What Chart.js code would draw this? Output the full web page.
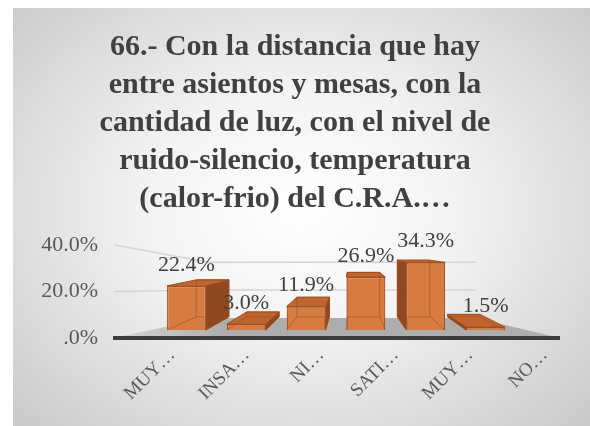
<!DOCTYPE html>
<html>
<head>
<meta charset="utf-8">
<script src="https://cdn.jsdelivr.net/npm/chart.js@4.4.1/dist/chart.umd.min.js"></script>
<style>
  html, body { margin: 0; padding: 0; background: #ffffff; }
  #wrap { position: relative; width: 590px; height: 426px; overflow: hidden; }
  #panel {
    position: absolute; left: 13px; top: 8px; right: 0; bottom: 0;
    background: radial-gradient(ellipse 70% 75% at 50% 48%, #ffffff 0%, #f3f3f3 38%, #c9c9c9 100%);
  }
  canvas { position: absolute; left: 0; top: 0; }
</style>
</head>
<body>
<div id="wrap">
  <div id="panel"></div>
  <canvas id="chart" width="590" height="426"></canvas>
</div>
<script>
// Survey question 66 — share of answers per option
const titleLines = [
  '66.- Con la distancia que hay',
  'entre asientos y mesas, con la',
  'cantidad de luz, con el nivel de',
  'ruido-silencio, temperatura',
  '(calor-frio) del C.R.A.…'
];
const categories = ['MUY…', 'INSA…', 'NI…', 'SATI…', 'MUY…', 'NO…'];
const percentages = [22.4, 3.0, 11.9, 26.9, 34.3, 1.5];
const yTickValues = [0, 20, 40];

// 3-D look: the bars stand on a plane set back from the axis plane,
// and every box is extruded toward a vanishing point.
const barPlane = { sx: 0.803, tx: 65.8, sy: 0.847, ty: 43.7 };
const barEye = { x: 350, y: 248, k: 0.84 };
const wallEye = { x: 350, y: 288, k: 0.6 };

const COLORS = {
  front: '#d67b42',
  edge: '#a24f1d',
  side: '#8f4822',
  top: '#bf6630',
  floor: '#adadad',
  floorEdge: '#3b3b3b',
  grid: '#d4d4d4',
  text: '#404040',
  tick: '#595959'
};

const serif = "'Liberation Serif', 'Times New Roman', serif";

function toPlane(x, y) {
  return { x: barPlane.sx * x + barPlane.tx, y: barPlane.sy * y + barPlane.ty };
}
function toward(eye, p) {
  return { x: eye.x + (p.x - eye.x) * eye.k, y: eye.y + (p.y - eye.y) * eye.k };
}
function poly(ctx, pts, fill, stroke) {
  ctx.beginPath();
  ctx.moveTo(pts[0].x, pts[0].y);
  for (let i = 1; i < pts.length; i++) ctx.lineTo(pts[i].x, pts[i].y);
  ctx.closePath();
  if (fill) { ctx.fillStyle = fill; ctx.fill(); }
  if (stroke) { ctx.strokeStyle = stroke; ctx.stroke(); }
}
function boxCorners(bar) {
  const p = bar.getProps(['x', 'y', 'base', 'width'], true);
  const tl = toPlane(p.x - p.width / 2, p.y);
  const tr = toPlane(p.x + p.width / 2, p.y);
  const br = toPlane(p.x + p.width / 2, p.base);
  const bl = toPlane(p.x - p.width / 2, p.base);
  return { tl, tr, br, bl, btl: toward(barEye, tl), btr: toward(barEye, tr), bbr: toward(barEye, br), bbl: toward(barEye, bl) };
}

const stage3d = {
  id: 'stage3d',
  beforeDatasetsDraw(chart) {
    const { ctx, chartArea: a, scales: { y } } = chart;
    const y0 = y.getPixelForValue(0);
    ctx.save();

    // floor
    const fl = { x: a.left, y: y0 }, fr = { x: a.right, y: y0 };
    const floorPts = [fl, fr, toward(wallEye, fr), toward(wallEye, fl)];
    const g = ctx.createLinearGradient(a.left, 0, a.right, 0);
    g.addColorStop(0, 'rgba(175,175,175,0.35)');
    g.addColorStop(0.25, COLORS.floor);
    g.addColorStop(1, COLORS.floor);
    poly(ctx, floorPts, g, null);

    // grid lines on the side and back walls
    ctx.lineWidth = 1.5;
    ctx.strokeStyle = COLORS.grid;
    yTickValues.filter(v => v > 0).forEach(v => {
      const yp = y.getPixelForValue(v);
      const f = { x: a.left + 2, y: yp };
      const bl = toward(wallEye, { x: a.left, y: yp });
      const br = toward(wallEye, { x: a.right, y: yp });
      ctx.beginPath();
      ctx.moveTo(f.x, f.y); ctx.lineTo(bl.x, bl.y); ctx.lineTo(br.x, br.y);
      ctx.stroke();
    });

    // front edge of the floor
    ctx.beginPath();
    ctx.moveTo(a.left, y0);
    ctx.lineTo(a.right, y0);
    ctx.lineWidth = 4;
    ctx.strokeStyle = COLORS.floorEdge;
    ctx.stroke();

    // hidden faces of each box (side + top), behind the front faces
    ctx.lineWidth = 1;
    chart.getDatasetMeta(0).data.forEach(bar => {
      const c = boxCorners(bar);
      if (barEye.x > c.tr.x) poly(ctx, [c.tr, c.br, c.bbr, c.btr], COLORS.side, COLORS.edge);
      if (barEye.x < c.tl.x) poly(ctx, [c.tl, c.bl, c.bbl, c.btl], COLORS.side, COLORS.edge);
      if (barEye.y < c.tl.y) poly(ctx, [c.tl, c.tr, c.btr, c.btl], COLORS.top, COLORS.edge);
    });
    ctx.restore();

    // front faces are drawn by the bar controller on the set-back plane
    ctx.save();
    ctx.setTransform(barPlane.sx, 0, 0, barPlane.sy, barPlane.tx, barPlane.ty);
  },
  afterDatasetsDraw(chart) {
    const { ctx } = chart;
    ctx.restore();
    ctx.save();
    const bars = chart.getDatasetMeta(0).data;
    // back edges seen through the faces
    ctx.lineWidth = 1;
    ctx.strokeStyle = 'rgba(150,65,20,0.45)';
    bars.forEach(bar => {
      const c = boxCorners(bar);
      poly(ctx, [c.btl, c.btr, c.bbr, c.bbl], null, 'rgba(150,65,20,0.45)');
      ctx.beginPath();
      ctx.moveTo(c.bl.x, c.bl.y); ctx.lineTo(c.bbl.x, c.bbl.y);
      ctx.moveTo(c.br.x, c.br.y); ctx.lineTo(c.bbr.x, c.bbr.y);
      ctx.stroke();
    });
    // value labels
    ctx.font = '22px ' + serif;
    ctx.fillStyle = COLORS.text;
    ctx.textAlign = 'center';
    ctx.textBaseline = 'middle';
    bars.forEach((bar, i) => {
      const p = toPlane(bar.x, bar.y);
      ctx.fillText(percentages[i].toFixed(1) + '%', p.x, p.y - 21);
    });
    ctx.restore();
  }
};

new Chart(document.getElementById('chart'), {
  type: 'bar',
  data: {
    labels: categories,
    datasets: [{
      data: percentages,
      backgroundColor: COLORS.front,
      borderColor: COLORS.edge,
      borderWidth: 1.5,
      barPercentage: 0.81,
      categoryPercentage: 0.8
    }]
  },
  options: {
    responsive: false,
    devicePixelRatio: 1,
    animation: false,
    layout: { padding: { left: 30, right: 30, top: 0, bottom: 0 } },
    plugins: {
      legend: { display: false },
      tooltip: { enabled: false },
      title: {
        display: true,
        text: titleLines,
        color: COLORS.text,
        font: { family: serif, size: 30, weight: 'bold', lineHeight: 38 / 30 },
        padding: { top: 28, bottom: 27 }
      }
    },
    scales: {
      x: {
        grid: { display: false },
        border: { display: false },
        ticks: {
          autoSkip: false,
          minRotation: 45,
          maxRotation: 45,
          padding: -2,
          labelOffset: 22,
          color: COLORS.tick,
          font: { family: serif, size: 19 }
        },
        afterFit(s) { s.height = 88; }
      },
      y: {
        min: 0,
        max: 40,
        afterBuildTicks(s) { s.ticks = yTickValues.map(v => ({ value: v })); },
        grid: { display: false, drawTicks: false },
        border: { display: false },
        ticks: {
          padding: 15,
          color: COLORS.tick,
          font: { family: serif, size: 22 },
          callback: v => (v === 0 ? '.0%' : v.toFixed(1) + '%')
        },
        afterFit(s) { s.width = 83; }
      }
    }
  },
  plugins: [stage3d]
});
</script>
</body>
</html>
